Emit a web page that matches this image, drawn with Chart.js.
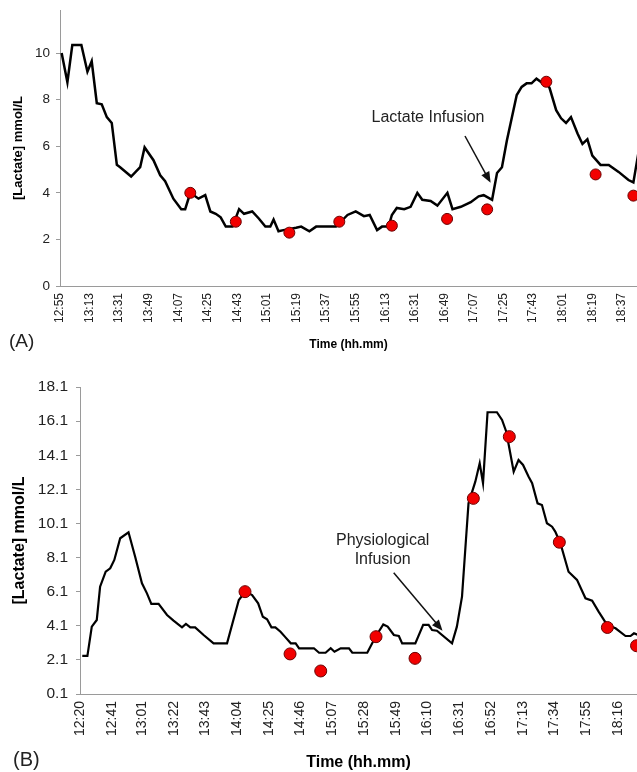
<!DOCTYPE html>
<html>
<head>
<meta charset="utf-8">
<script src="https://cdn.jsdelivr.net/npm/chart.js@4.4.0/dist/chart.umd.min.js"></script>
<style>
  body { margin: 0; background: #fff; }
  #wrap { position: relative; width: 637px; height: 772px; overflow: hidden; }
  canvas { position: absolute; left: 0; }
  #chartA { top: 0; }
  #chartB { top: 380px; }
</style>
</head>
<body>
<div id="wrap">
  <canvas id="chartA" width="637" height="356"></canvas>
  <canvas id="chartB" width="637" height="392"></canvas>
</div>
<script>
// (A) lactate infusion - minutes after 12:55
const timeA = [1, 4.5, 7.5, 13, 16.7, 19.3, 22.4, 25.4, 28.5, 31.5, 34.6, 36.6, 43.3, 48.8, 51.5, 56.9, 61, 64, 69, 73.8,
  76.2, 79.3, 84.3, 88.4, 91.5, 94.8, 97.8, 100.9, 105, 109, 112, 117, 121, 125, 128, 130, 133, 136, 143.7, 146.8,
  151.8, 155.9, 164, 168, 175, 180, 185, 188.5, 193, 196, 200, 202, 205, 209.5, 213.4, 217.5, 220.5, 225.6, 229.7, 235.8,
  238.9, 244, 250, 254.8, 257.9, 263, 266, 269, 272, 278, 281, 284, 287, 290, 293, 296, 298, 302, 305, 308,
  311, 315, 318, 321, 324, 329, 334, 340, 346, 349, 352.5]
const lactateA = [10.0, 8.75, 10.35, 10.35, 9.2, 9.65, 7.85, 7.8, 7.25, 7.0, 5.2, 5.1, 4.7, 5.1, 5.95, 5.4, 4.75, 4.5, 3.75, 3.3,
  3.3, 4.0, 3.75, 3.9, 3.2, 3.1, 2.95, 2.55, 2.55, 3.3, 3.1, 3.2, 2.9, 2.55, 2.55, 2.85, 2.35, 2.4, 2.5, 2.55,
  2.35, 2.55, 2.55, 2.55, 3.05, 3.2, 3.0, 3.05, 2.4, 2.55, 2.55, 3.05, 3.35, 3.3, 3.4, 4.0, 3.7, 3.65, 3.45, 4.0,
  3.3, 3.4, 3.6, 3.85, 3.9, 3.7, 4.85, 5.1, 6.25, 8.2, 8.55, 8.7, 8.7, 8.9, 8.75, 8.75, 8.5, 7.55, 7.2, 7.0,
  7.25, 6.55, 6.1, 6.3, 5.6, 5.2, 5.2, 4.9, 4.55, 4.45, 5.9]
const sampleTimeA = [79.3, 107, 139.6, 170, 202, 235.6, 260, 296, 326, 349]
const sampleA = [4.0, 2.76, 2.29, 2.76, 2.59, 2.88, 3.29, 8.77, 4.79, 3.88]
const tickLabelsA = ["12:55", "13:13", "13:31", "13:49", "14:07", "14:25", "14:43", "15:01", "15:19", "15:37",
  "15:55", "16:13", "16:31", "16:49", "17:07", "17:25", "17:43", "18:01", "18:19", "18:37"]
const yTicksA = [0, 2, 4, 6, 8, 10]

// (B) physiological infusion - minutes after 12:20
const timeB = [1.5, 4.9, 7.8, 11.1, 13.3, 17.0, 20.0, 22.7, 26.6, 32.1, 36.5, 41.0, 44.3, 47.2, 52.0, 57.6, 61.9, 67.5, 70.1, 73.0,
  76.2, 81.8, 88.4, 97.3, 105.1, 109.4, 113.9, 117.9, 121.0, 123.8, 126.7, 129.3, 132.7, 136.0, 139.5, 142.7, 145.0, 154.8, 158.2, 162.5,
  165.9, 168.4, 172.5, 178.0, 180.2, 190.1, 195.6, 200.7, 203.6, 207.7, 211.0, 213.2, 221.9, 227.1, 230.7, 233.0, 236.2, 246.2, 249.4, 252.8,
  255.4, 257.1, 261.6, 264.5, 266.7, 269.7, 275.9, 279.3, 282.1, 287.0, 290.2, 293.2, 296.8, 299.2, 302.8, 305.7, 309.0, 312.4, 314.5, 317.9,
  323.3, 328.9, 334.5, 338.9, 343.2, 348.8, 354.4, 361.0, 364.3, 366.6, 369.5]
const lactateB = [2.33, 2.33, 4.05, 4.44, 6.39, 7.27, 7.47, 7.96, 9.23, 9.58, 8.15, 6.59, 6.0, 5.38, 5.38, 4.73, 4.4, 4.01, 4.21, 4.01,
  4.01, 3.56, 3.07, 3.07, 5.61, 6.1, 5.9, 5.42, 4.63, 4.48, 4.01, 4.01, 3.75, 3.42, 3.07, 3.07, 2.78, 2.78, 2.52, 2.52,
  2.78, 2.58, 2.78, 2.78, 2.52, 2.52, 3.46, 4.18, 4.05, 3.56, 3.5, 3.07, 3.07, 4.15, 4.15, 3.85, 3.81, 3.07, 4.05, 5.81,
  9.13, 11.28, 12.55, 13.63, 12.46, 16.62, 16.62, 16.17, 15.48, 13.14, 13.82, 13.53, 12.85, 12.46, 11.28, 11.18, 10.11, 9.91, 9.62, 8.94,
  7.27, 6.79, 5.71, 5.57, 4.93, 4.15, 3.95, 3.5, 3.5, 3.66, 3.56]
const sampleTimeB = [109.2, 139.0, 159.3, 195.9, 221.7, 260.3, 284.1, 317.2, 349.0, 368.3]
const sampleB = [6.1, 2.45, 1.45, 3.46, 2.19, 11.57, 15.19, 9.0, 4.0, 2.93]
const tickLabelsB = ["12:20", "12:41", "13:01", "13:22", "13:43", "14:04", "14:25", "14:46", "15:07", "15:28",
  "15:49", "16:10", "16:31", "16:52", "17:13", "17:34", "17:55", "18:16"]
const yTicksB = [0.1, 2.1, 4.1, 6.1, 8.1, 10.1, 12.1, 14.1, 16.1, 18.1]

Chart.defaults.font.family = "'Liberation Sans', Arial, sans-serif"
Chart.defaults.color = '#222'

const toMin = s => { const p = s.split(':'); return +p[0] * 60 + +p[1] }
const pts = (xs, ys) => xs.map((t, i) => ({ x: t, y: ys[i] }))

const notes = {
  id: 'notes',
  afterDraw(chart, args, o) {
    const { ctx, scales: { x, y } } = chart
    ctx.save()
    ctx.fillStyle = '#222'
    ctx.font = o.font
    ctx.textAlign = 'center'
    ctx.textBaseline = 'middle'
    o.text.forEach((line, i) => {
      ctx.fillText(line, x.getPixelForValue(o.textAt[0]), y.getPixelForValue(o.textAt[1]) + i * o.lineGap)
    })
    // arrow
    const x1 = x.getPixelForValue(o.from[0]), y1 = y.getPixelForValue(o.from[1])
    const x2 = x.getPixelForValue(o.to[0]), y2 = y.getPixelForValue(o.to[1])
    const a = Math.atan2(y2 - y1, x2 - x1)
    ctx.strokeStyle = '#111'
    ctx.lineWidth = 1.5
    ctx.beginPath()
    ctx.moveTo(x1, y1)
    ctx.lineTo(x2 - 8 * Math.cos(a), y2 - 8 * Math.sin(a))
    ctx.stroke()
    ctx.fillStyle = '#111'
    ctx.beginPath()
    ctx.moveTo(x2, y2)
    ctx.lineTo(x2 - 11 * Math.cos(a) + 4.5 * Math.sin(a), y2 - 11 * Math.sin(a) - 4.5 * Math.cos(a))
    ctx.lineTo(x2 - 11 * Math.cos(a) - 4.5 * Math.sin(a), y2 - 11 * Math.sin(a) + 4.5 * Math.cos(a))
    ctx.closePath()
    ctx.fill()
    // panel letter
    ctx.fillStyle = '#222'
    ctx.textAlign = 'left'
    ctx.font = o.panelFont
    ctx.fillText(o.panel, o.panelPos[0], o.panelPos[1])
    ctx.restore()
  }
}

function makeChart(id, cfg) {
  const ticksAt = cfg.tickLabels.map(s => toMin(s) - toMin(cfg.tickLabels[0]))
  return new Chart(document.getElementById(id), {
    type: 'scatter',
    data: {
      datasets: [{
        data: pts(cfg.sampleTime, cfg.sample),
        pointRadius: cfg.dot,
        pointBackgroundColor: '#f20000',
        pointBorderColor: '#6a0000',
        pointBorderWidth: 1
      }, {
        type: 'line',
        data: pts(cfg.time, cfg.lactate),
        borderColor: '#000',
        borderWidth: cfg.lineWidth,
        pointRadius: 0,
        tension: 0
      }]
    },
    options: {
      responsive: false,
      animation: false,
      layout: { autoPadding: false, padding: { top: cfg.top, left: 0, right: 0, bottom: 0 } },
      plugins: { legend: { display: false }, tooltip: { enabled: false }, notes: cfg.notes },
      scales: {
        x: {
          type: 'linear', min: 0, max: cfg.xMax,
          afterBuildTicks: s => { s.ticks = ticksAt.map(v => ({ value: v })) },
          afterFit: s => { s.height = cfg.xHeight; s.paddingLeft = 0; s.paddingRight = 0 },
          ticks: {
            autoSkip: false, maxRotation: 90, minRotation: 90, padding: 7,
            font: { size: cfg.xFont }, color: '#222',
            callback: (v, i) => cfg.tickLabels[i]
          },
          grid: { display: false, drawTicks: false },
          border: { color: '#9a9a9a', width: 1 },
          title: { display: true, text: 'Time (hh.mm)', color: '#000',
            font: { size: cfg.titleFont, weight: 'bold' }, padding: { top: 0, bottom: cfg.titlePad } }
        },
        y: {
          min: cfg.yTicks[0], max: cfg.yMax,
          afterBuildTicks: s => { s.ticks = cfg.yTicks.map(v => ({ value: v })) },
          afterFit: s => { s.width = cfg.yWidth; s.paddingTop = 0; s.paddingBottom = 0 },
          ticks: { padding: cfg.yPad, font: { size: cfg.yFont }, color: '#222',
            callback: v => cfg.decimals ? v.toFixed(1) : v },
          grid: { drawOnChartArea: false, drawTicks: true, tickLength: 4, color: '#9a9a9a' },
          border: { color: '#9a9a9a', width: 1 },
          title: { display: true, text: '[Lactate] mmol/L', color: '#000',
            font: { size: cfg.yTitleFont, weight: 'bold' }, padding: { top: cfg.yTitlePad, bottom: 0 } }
        }
      }
    },
    plugins: [notes]
  })
}

makeChart('chartA', {
  time: timeA, lactate: lactateA, sampleTime: sampleTimeA, sample: sampleA,
  tickLabels: tickLabelsA, yTicks: yTicksA, yMax: 11.85, xMax: 351.2, decimals: false,
  top: 10, xHeight: 70, yWidth: 60, xFont: 12, yFont: 13.5, titleFont: 12, titlePad: 4,
  yTitleFont: 13, yTitlePad: 11, yPad: 6, dot: 5.5, lineWidth: 2.5,
  notes: { text: ['Lactate Infusion'], textAt: [224, 7.25], lineGap: 0, font: '16px "Liberation Sans", Arial',
    from: [246.5, 6.44], to: [262.1, 4.43], panel: '(A)', panelPos: [9, 342], panelFont: '19px "Liberation Sans", Arial' }
})

makeChart('chartB', {
  time: timeB, lactate: lactateB, sampleTime: sampleTimeB, sample: sampleB,
  tickLabels: tickLabelsB, yTicks: yTicksB, yMax: 18.1, xMax: 368.6, decimals: true,
  top: 7, xHeight: 78, yWidth: 80, xFont: 14, yFont: 15.5, titleFont: 16, titlePad: 0,
  yTitleFont: 16, yTitlePad: 10, yPad: 8, dot: 6, lineWidth: 2.2,
  notes: { text: ['Physiological', 'Infusion'], textAt: [200.3, 9.07], lineGap: 19, font: '16px "Liberation Sans", Arial',
    from: [207.6, 7.21], to: [239.9, 3.81], panel: '(B)', panelPos: [13, 380], panelFont: '20px "Liberation Sans", Arial' }
})
</script>
</body>
</html>
